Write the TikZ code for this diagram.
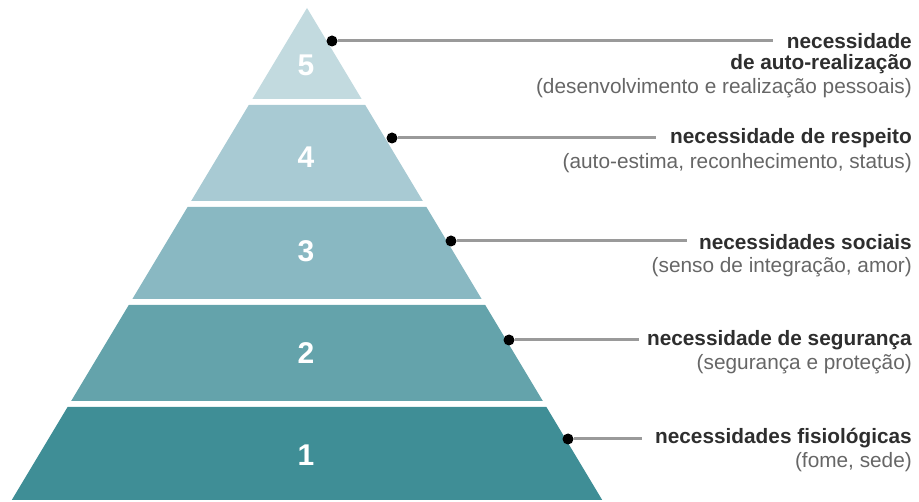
\documentclass[tikz,border=0pt]{standalone}
\usepackage{fontspec}
\setmainfont{Liberation Sans}
\usetikzlibrary{positioning,calc}
\definecolor{lvlA}{HTML}{3F8E96}
\definecolor{lvlB}{HTML}{64A3AB}
\definecolor{lvlC}{HTML}{89B8C2}
\definecolor{lvlD}{HTML}{A8CAD3}
\definecolor{lvlE}{HTML}{C2DADF}
\definecolor{headtxt}{HTML}{2E2E2E}
\definecolor{subtxt}{HTML}{666666}
\definecolor{leader}{HTML}{9A9A9A}

\begin{document}
\begin{tikzpicture}[x=1pt, y=-1pt,
    level/.style={font=\fontsize{30}{30}\selectfont\bfseries, text=white},
    head/.style={anchor=east, inner sep=0pt, font=\fontsize{20.8}{22}\selectfont\bfseries, text=headtxt},
    sub/.style={anchor=east, inner sep=0pt, font=\fontsize{20.8}{22}\selectfont, text=subtxt},
    dot/.style={circle, fill=black, minimum size=11pt, inner sep=0pt},
    leadline/.style={draw=leader, line width=3pt}]
    \useasboundingbox (0,0) rectangle (919,502);

    % Pyramid bands (top, bottom, colour)
    \foreach \t/\b/\c in {407/500/lvlA, 305/401/lvlB, 207/299/lvlC, 105/201/lvlD, 8/99/lvlE}
        \fill[\c] ({307-0.6*(\t-8)},\t) -- ({307+0.6*(\t-8)},\t)
            -- ({307+0.6*(\b-8)},\b) -- ({307-0.6*(\b-8)},\b) -- cycle;

    % Level numbers
    \node[level] (n5) at (306,65) {5};
    \node[level] (n4) at (306,157) {4};
    \node[level] (n3) at (306,251) {3};
    \node[level] (n2) at (306,353) {2};
    \node[level] (n1) at (306,455) {1};

    % Labels
    \node[head] (h5) at (912,41) {necessidade};
    \node[head] (h5b) at (912,64) {de auto-realização};
    \node[sub] (s5) at (912,88) {(desenvolvimento e realização pessoais)};
    \node[head] (h4) at (912,138) {necessidade de respeito};
    \node[sub] (s4) at (912,163) {(auto-estima, reconhecimento, status)};
    \node[head] (h3) at (912,242) {necessidades sociais};
    \node[sub] (s3) at (912,267) {(senso de integração, amor)};
    \node[head] (h2) at (912,340) {necessidade de segurança};
    \node[sub] (s2) at (912,364) {(segurança e proteção)};
    \node[head] (h1) at (912,438) {necessidades fisiológicas};
    \node[sub] (s1) at (912,462) {(fome, sede)};

    % Leader dots and lines
    \node[dot] (d5) at (332,41) {};
    \node[dot] (d4) at (392,138) {};
    \node[dot] (d3) at (451,241) {};
    \node[dot] (d2) at (509,340) {};
    \node[dot] (d1) at (568,439) {};
    \foreach \i/\g in {5/14, 4/14, 3/12, 2/8, 1/13}
        \draw[leadline] (d\i.east) -- ($(d\i -| h\i.west)+(-\g,0)$);
\end{tikzpicture}
\end{document}
